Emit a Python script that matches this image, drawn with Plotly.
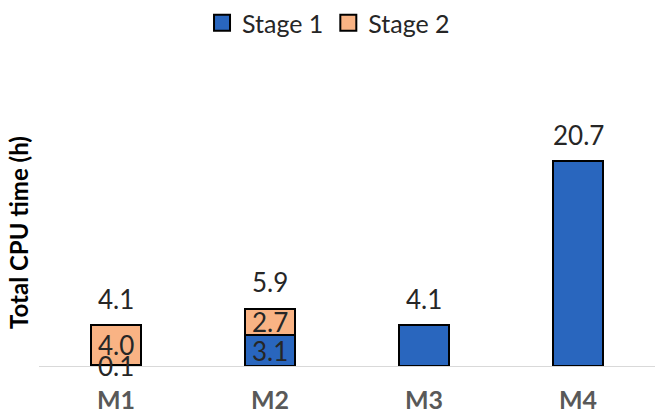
import plotly.graph_objects as go

# Data
models = ["M1", "M2", "M3", "M4"]
stage1 = [0.1, 3.1, 4.1, 20.7]
stage2 = [4.0, 2.7, 0.0, 0.0]
totals = [4.1, 5.9, 4.1, 20.7]

BLUE = "#2966BE"
ORANGE = "#F9B384"
FONT = "Lato"
TXT = "#262626"

fig = go.Figure()

fig.add_trace(go.Bar(
    x=models, y=stage1, name="Stage 1", showlegend=False,
    marker=dict(color=BLUE, line=dict(color="black", width=2)),
))
fig.add_trace(go.Bar(
    x=models, y=stage2, name="Stage 2", showlegend=False,
    marker=dict(color=ORANGE, line=dict(color="black", width=2)),
))

# Legend entries with larger square swatches
for name, col in [("Stage 1", BLUE), ("Stage 2", ORANGE)]:
    fig.add_trace(go.Scatter(
        x=[None], y=[None], mode="markers", name=name,
        marker=dict(symbol="square", size=17, color=col,
                    line=dict(color="black", width=2)),
    ))

annotations = []
# Segment labels for stacked bars
for m, s1, s2 in zip(models, stage1, stage2):
    if s2 > 0:
        annotations.append(dict(x=m, y=s1 / 2, text=f"{s1:.1f}", showarrow=False,
                                font=dict(family=FONT, size=26, color=TXT)))
        annotations.append(dict(x=m, y=s1 + s2 / 2, text=f"{s2:.1f}", showarrow=False,
                                font=dict(family=FONT, size=26, color=TXT)))
# Total labels above bars
for m, t in zip(models, totals):
    annotations.append(dict(x=m, y=t, text=f"{t:.1f}", showarrow=False,
                            yshift=26, font=dict(family=FONT, size=26, color=TXT)))

# Y-axis title
annotations.append(dict(xref="paper", yref="paper", x=0, y=0.5, xshift=-21,
                        xanchor="center", yanchor="middle",
                        text="<b>Total CPU time (h)</b>", textangle=-90,
                        showarrow=False, font=dict(family=FONT, size=24, color="black")))

fig.update_layout(
    width=657, height=419,
    margin=dict(l=39, r=2, t=100, b=53),
    barmode="stack", bargap=0.68,
    plot_bgcolor="white", paper_bgcolor="white",
    font=dict(family=FONT, color=TXT),
    annotations=annotations,
    legend=dict(orientation="h", x=0.47, xanchor="center", yref="container",
                y=1.0, yanchor="top", traceorder="normal",
                font=dict(family=FONT, size=25, color=TXT),
                itemwidth=30, tracegroupgap=0),
    xaxis=dict(showline=True, linecolor="#D9D9D9", linewidth=1, ticks="outside",
               ticklen=12, tickcolor="rgba(0,0,0,0)",
               tickfont=dict(family=FONT, size=25, color="#595959", weight="bold"),
               showgrid=False),
    yaxis=dict(range=[0, 26.9], showticklabels=False, showgrid=False,
               zeroline=False, showline=False, ticks=""),
)

fig.write_html("out.html")
